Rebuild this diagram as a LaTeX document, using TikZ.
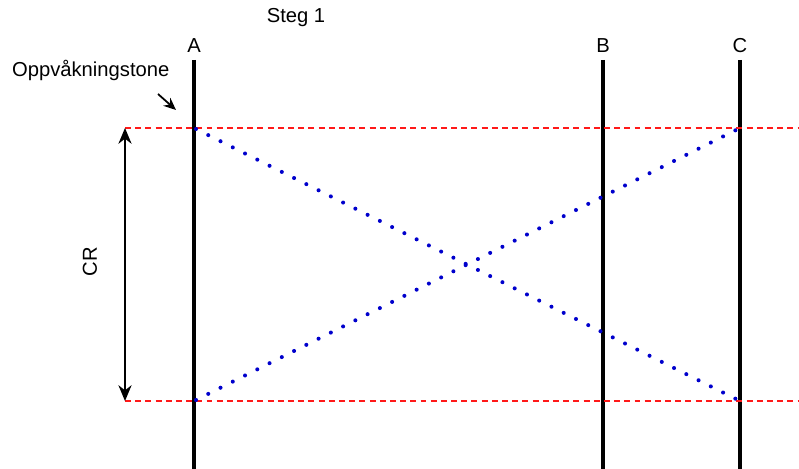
\documentclass[tikz,border=0pt]{standalone}
\usepackage{fontspec}
\setmainfont{Liberation Sans}
\usetikzlibrary{arrows.meta}

\tikzset{
  axisline/.style={line width=2pt, black},
  tonegrense/.style={line width=0.9pt, red!90!white, dash pattern=on 3.4pt off 2.4pt},
  bane/.style={line width=2.3pt, blue!80!black, line cap=round, dash pattern=on 0pt off 7.8pt},
  etikett/.style={inner sep=1pt, font=\fontsize{11.5}{13}\selectfont}
}

\begin{document}
\begin{tikzpicture}[x=0.02cm, y=-0.02cm]
\useasboundingbox (0,0) rectangle (799,469);
% vertikale linjer
\node[etikett] (A) at (194,46) {A};
\node[etikett] (B) at (603,46) {B};
\node[etikett] (C) at (740,46) {C};
\coordinate (Abot) at (194,469);
\coordinate (Bbot) at (603,469);
\coordinate (Cbot) at (740,469);
\draw[axisline] (A.south |- 0,60) -- (Abot);
\draw[axisline] (B.south |- 0,60) -- (Bbot);
\draw[axisline] (C.south |- 0,60) -- (Cbot);
% tonegrenser
\coordinate (ovst) at (125,128);
\coordinate (nedst) at (125,401);
\coordinate (ovh) at (799,128);
\coordinate (nedh) at (799,401);
\draw[tonegrense] (ovst) -- (ovh);
\draw[tonegrense] (nedst) -- (nedh);
% baner
\coordinate (Aov) at (196,129);
\coordinate (Aned) at (196,400);
\coordinate (Cov) at (738,129);
\coordinate (Cned) at (738,400);
\draw[bane] (Aov) -- (Cned);
\draw[bane] (Aned) -- (Cov);
% CR
\draw[line width=0.9pt, {Stealth[length=9pt,width=7.5pt]}-{Stealth[length=9pt,width=7.5pt]}] (ovst) -- (nedst);
\node[etikett, rotate=90] (CR) at (90,262) {CR};
% tekster
\node[etikett] (steg) at (296,18) {Steg 1};
\node[etikett, anchor=west] (vekke) at (10,70) {Oppvåkningstone};
\coordinate (pil1) at (158,94);
\coordinate (pil2) at (176,110);
\draw[line width=1pt, -{Stealth[length=7pt,width=6pt]}] (pil1) -- (pil2);
\end{tikzpicture}
\end{document}
